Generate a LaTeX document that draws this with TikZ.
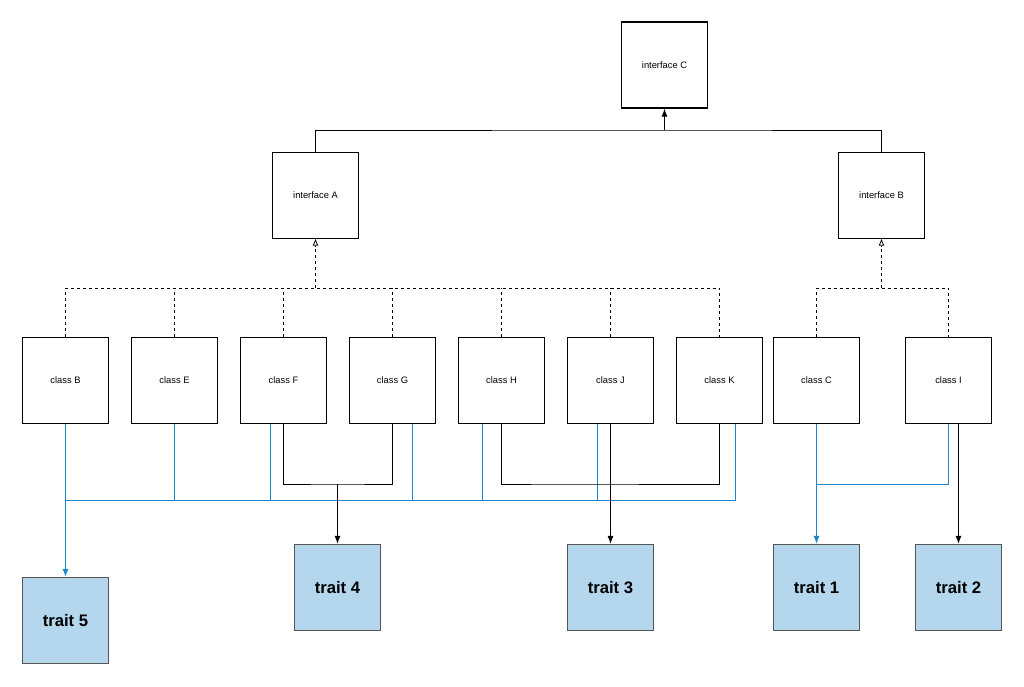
\documentclass[tikz,border=0pt]{standalone}
\usepackage{fontspec}
\setmainfont{Liberation Sans}
\usetikzlibrary{arrows.meta,calc}

\definecolor{traitfill}{RGB}{180,215,238}
\definecolor{traitline}{RGB}{85,85,85}
\definecolor{mixblue}{RGB}{28,134,200}

\begin{document}
\begin{tikzpicture}[x=0.75pt,y=-0.75pt,
		box/.style={draw, line width=0.8pt, minimum width=64.5pt, minimum height=64.5pt, inner sep=0pt, font=\fontsize{7}{8}\selectfont},
		trait/.style={box, draw=traitline, line width=1pt, fill=traitfill, font=\fontsize{12.5}{14}\selectfont\bfseries},
		impl/.style={line width=0.6pt, dash pattern=on 2.5pt off 2pt},
		mix/.style={draw=mixblue, line width=0.75pt},
		>={Latex[length=6pt,width=4.5pt]}]
		
		\useasboundingbox (0,0) rectangle (1024,686);
		
		% interfaces
		\node[box] (ifC) at (664.5,65) {interface C};
		\node[box] (ifA) at (315.5,195.5) {interface A};
		\node[box] (ifB) at (881.5,195.5) {interface B};
		
		% classes
		\foreach \n/\x in {B/65.5,E/174.5,F/283.5,G/392.5,H/501.5,J/610.5,K/719.5,C/816.5,I/948.5}
			\node[box] (cls\n) at (\x,380.5) {class \n};
		
		% traits
		\node[trait] (trait5) at (65.5,620.5) {trait 5};
		\node[trait] (trait4) at (337.5,587.5) {trait 4};
		\node[trait] (trait3) at (610.5,587.5) {trait 3};
		\node[trait] (trait1) at (816.5,587.5) {trait 1};
		\node[trait] (trait2) at (958.5,587.5) {trait 2};
		
		\coordinate (topbar) at (664.5,130);
		\coordinate (realA) at (315.5,288);
		\coordinate (realB) at (881.5,288);
		\coordinate (bus5) at (65.5,500);
		\coordinate (join4) at (337.5,484);
		\coordinate (joinHK) at (560,484);
		\coordinate (join1) at (816.5,484);
		
		\coordinate (bF) at ($(clsF.south)+(-13.5,0)$);
		\coordinate (bG) at ($(clsG.south)+(19.5,0)$);
		\coordinate (bH) at ($(clsH.south)+(-19.5,0)$);
		\coordinate (bJ) at ($(clsJ.south)+(-13.5,0)$);
		\coordinate (bK) at ($(clsK.south)+(15.5,0)$);
		
		% extends
		\draw[line width=0.75pt] (ifA.north) |- (topbar) -| (ifB.north);
		\draw[line width=0.75pt,->] (topbar) -- (ifC.south);
		
		% implements
		\draw[impl] (clsB.north) |- (realA) -| (clsK.north);
		\foreach \n in {E,F,G,H,J}
			\draw[impl] (cls\n.north) -- (cls\n.north |- realA);
		\draw[impl,-{Triangle[open,length=5pt,width=4pt]}] (realA) -- (ifA.south);
		\draw[impl] (clsC.north) |- (realB) -| (clsI.north);
		\draw[impl,-{Triangle[open,length=5pt,width=4pt]}] (realB) -- (ifB.south);
		
		% trait 5
		\draw[mix] (bus5) -| (bK);
		\foreach \b in {F,G,H,J}
			\draw[mix] (b\b) -- (b\b |- bus5);
		\draw[mix] (clsE.south) -- (clsE.south |- bus5);
		\draw[mix,->] (clsB.south) -- (trait5.north);
		
		% trait 4, trait 3
		\draw[line width=0.75pt] (clsF.south) |- (join4) -| (clsG.south);
		\draw[line width=0.75pt,->] (join4) -- (trait4.north);
		\draw[line width=0.75pt] (clsH.south) |- (joinHK) -| (clsK.south);
		\draw[line width=0.75pt,->] (clsJ.south) -- (trait3.north);
		
		% trait 1, trait 2
		\draw[mix,->] (clsC.south) -- (trait1.north);
		\draw[mix] (clsI.south) |- (join1);
		\draw[line width=0.75pt,->] (trait2.north |- clsI.south) -- (trait2.north);
		
	\end{tikzpicture}
\end{document}
